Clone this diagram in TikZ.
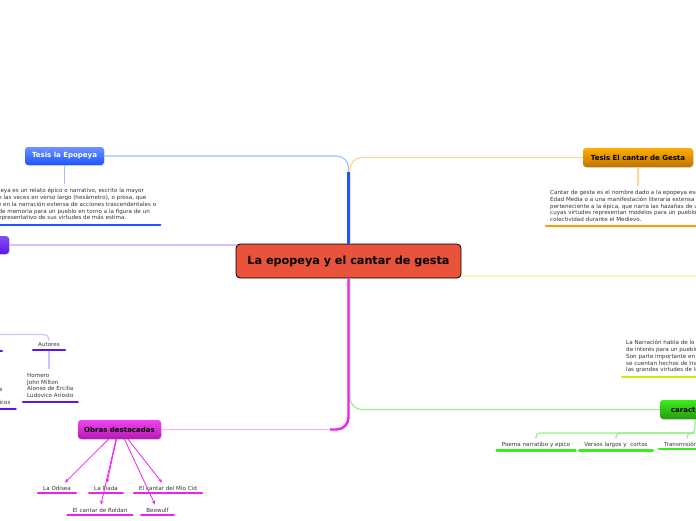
\documentclass[tikz,border=0pt]{standalone}
\usepackage{fontspec}
\setmainfont{DejaVu Sans}
\usepackage{tikz}
\usetikzlibrary{shapes, arrows.meta, positioning, calc, shadows}

\definecolor{centrered}{HTML}{E9523B}
\definecolor{epoblue}{HTML}{1E56FF}
\definecolor{epolight}{HTML}{A3BEFF}
\definecolor{gestaorange}{HTML}{FF9A00}
\definecolor{gestalight}{HTML}{FFD49A}
\definecolor{autpurple}{HTML}{5A16F0}
\definecolor{autlight}{HTML}{D2C0FF}
\definecolor{obmag}{HTML}{EE22EE}
\definecolor{oblight}{HTML}{F7B4F7}
\definecolor{cargreen}{HTML}{3AEE1A}
\definecolor{carlight}{HTML}{96F088}
\definecolor{naryellow}{HTML}{CCEE00}
\definecolor{narlight}{HTML}{F0F8BC}
\definecolor{smalltext}{HTML}{333333}

\begin{document}
\begin{tikzpicture}[x=1pt, y=-1pt,
  topic/.style={rectangle, rounded corners=3pt, minimum height=18pt,
                text centered, font=\fontsize{7}{8.5}\selectfont\bfseries,
                drop shadow={opacity=0.25, shadow xshift=0.8pt, shadow yshift=-0.8pt}},
  leaf/.style={inner xsep=5pt, inner ysep=3pt, anchor=base,
               font=\fontsize{5.6}{6.8}\selectfont, text=smalltext},
  textblock/.style={align=left, inner sep=4pt, anchor=north west,
                    font=\fontsize{5.6}{6.8}\selectfont, text=smalltext},
  under/.style={line width=2.4pt, line cap=round},
  thin/.style={line width=1.2pt},
  thick line/.style={line width=2.4pt},
  marrow/.style={-{Stealth[length=4pt, width=3.5pt]}, draw=obmag, line width=0.8pt}
]
\useasboundingbox (0,0) rectangle (696,520);
\clip (0,0) rectangle (696,520);

%% --- Central topic ---
\node[rectangle, draw=black, line width=0.8pt, rounded corners=4pt, fill=centrered,
      minimum width=225pt, minimum height=34pt,
      font=\fontsize{11.2}{13}\selectfont\bfseries] (centre) at (348.5,261)
    {La epopeya y el cantar de gesta};

%% --- Main topics ---
\node[topic, top color=epoblue!65!white, bottom color=epoblue, text=white,
      minimum width=79pt] (epopeya) at (64.5,156) {Tesis la Epopeya};
\node[topic, top color=gestaorange!80!yellow, bottom color=gestaorange!75!black,
      minimum width=110pt, minimum height=19pt] (gesta) at (638,157.5)
    {Tesis El cantar de Gesta};
\node[topic, top color=autpurple!75!white, bottom color=autpurple,
      minimum width=78pt] (autores0) at (-30,245) {};
\node[topic, top color=obmag!85!white, bottom color=obmag!75!black,
      minimum width=83pt, minimum height=19pt] (obras) at (119.5,429.5)
    {Obras destacadas};
\node[topic, top color=cargreen, bottom color=cargreen!65!black,
      minimum width=80pt, minimum height=19pt] (caract) at (700,409.5)
    {características};

%% --- Text blocks ---
\node[textblock] (epoText) at (-26,184)
    {La epopeya es un relato épico o narrativo, escrito la mayor\\
     parte de las veces en verso largo (hexámetro), o prosa, que\\
     consiste en la narración extensa de acciones trascendentales o\\
     dignas de memoria para un pueblo en torno a la figura de un\\
     héroe representativo de sus virtudes de más estima.};
\node[textblock] (gestaText) at (546,186)
    {Cantar de gesta es el nombre dado a la epopeya escrita en la\\
     Edad Media o a una manifestación literaria extensa\\
     perteneciente a la épica, que narra las hazañas de un héroe\\
     cuyas virtudes representan modelos para un pueblo o\\
     colectividad durante el Medievo.};
\node[textblock] (narText) at (622,336)
    {La Narración habla de lo heroico\\
     de interés para un pueblo\\
     Son parte importante en su\\
     se cuentan hechos de trascendencia\\
     las grandes virtudes de los héroes};
\node[textblock] (autList) at (23,369)
    {Homero\\ John Milton\\ Alonso de Ercilla\\ Ludovico Ariosto};

%% --- Leaves ---
\node[leaf] (autores) at (49,346.5) {Autores};
\node[leaf] (frgA) at (1,391) {s};
\node[leaf] (frgB) at (5,404) {icos};
\node[leaf] (odisea) at (57,490) {La Odisea};
\node[leaf] (iliada) at (106,490) {La Iliada};
\node[leaf] (miocid) at (168,490) {El cantar del Mio Cid};
\node[leaf] (roldan) at (100,512) {El cantar de Roldan};
\node[leaf] (beowulf) at (157.5,512) {Beowulf};
\node[leaf] (poema) at (536,446) {Poema narratibo y epico};
\node[leaf] (versos) at (616,446) {Versos largos y \ cortos};
\node[leaf] (trans) at (687,446) {Transmisión oral};

\coordinate (narEnd) at (700,276);
\coordinate (pfork) at (-10,334.5);
\coordinate (gfork) at (695,433);
\coordinate (mbend) at (330,429.5);

%% --- Centre -> main topics ---
\draw[thin, epolight, rounded corners=12pt] (centre.north) |- (epopeya.east);
\draw[thin, gestalight, rounded corners=12pt] ([xshift=1.5pt]centre.north) |- (gesta.west);
\draw[thick line, epoblue] (centre.north) -- ++(0,-72);
\draw[thin, autlight] (autores0.east) -- (autores0.east -| centre.west);
\draw[thin, narlight] (centre.east |- narEnd) -- (narEnd);
\draw[thin, carlight, rounded corners=12pt] ([xshift=1.5pt]centre.south) |- (caract.west);
\draw[thin, oblight, rounded corners=12pt] (centre.south) |- (obras.east);
\draw[thick line, obmag, rounded corners=12pt] (centre.south) |- (mbend);

%% --- Topics -> text ---
\draw[thin, epolight] (epopeya.south) -- (epoText.north -| epopeya.south);
\draw[thin, gestalight] (gesta.south) -- (gestaText.north -| gesta.south);
\draw[thin, autlight, rounded corners=5pt] (pfork) -| (autores.north);
\draw[thin, autlight] (autores.south) -- (autList.north -| autores.south);
\draw[thin, carlight, rounded corners=4pt] (caract.south -| gfork) -- (gfork) -| (poema.north);
\draw[thin, carlight, rounded corners=4pt] (gfork) -| (versos.north);
\draw[thin, carlight, rounded corners=4pt] (gfork) -| (trans.north);

%% --- Obras destacadas -> works ---
\draw[marrow] ([xshift=-11pt]obras.south) -- ($(odisea.north)+(8,0)$);
\draw[marrow] ([xshift=-3pt]obras.south) -- ($(iliada.north)+(1,0)$);
\draw[marrow] ([xshift=-3.5pt]obras.south) -- ($(roldan.north)+(1,0)$);
\draw[marrow] ([xshift=5pt]obras.south) -- ($(beowulf.north)+(-2.5,0)$);
\draw[marrow] ([xshift=8.5pt]obras.south) -- ($(miocid.north)+(-6,0)$);

%% --- Underlines ---
\draw[under, epoblue] (epoText.south west) -- (epoText.south east);
\draw[under, gestaorange] (gestaText.south west) -- (gestaText.south east);
\draw[under, naryellow] (narText.south west) -- (narText.south east);
\draw[under, autpurple] (autList.south west) -- (autList.south east);
\draw[under, autpurple] (autores.south west) -- (autores.south east);
\draw[under, autpurple] (-30,351) -- (2,351);
\draw[under, autpurple] (-30,409) -- (frgB.south east |- 0,409);
\foreach \leafname in {odisea, iliada, miocid, roldan, beowulf}
  \draw[under, obmag] (\leafname.south west) -- (\leafname.south east);
\foreach \leafname in {poema, versos, trans}
  \draw[under, cargreen] (\leafname.south west) -- (\leafname.south east);

\end{tikzpicture}
\end{document}
